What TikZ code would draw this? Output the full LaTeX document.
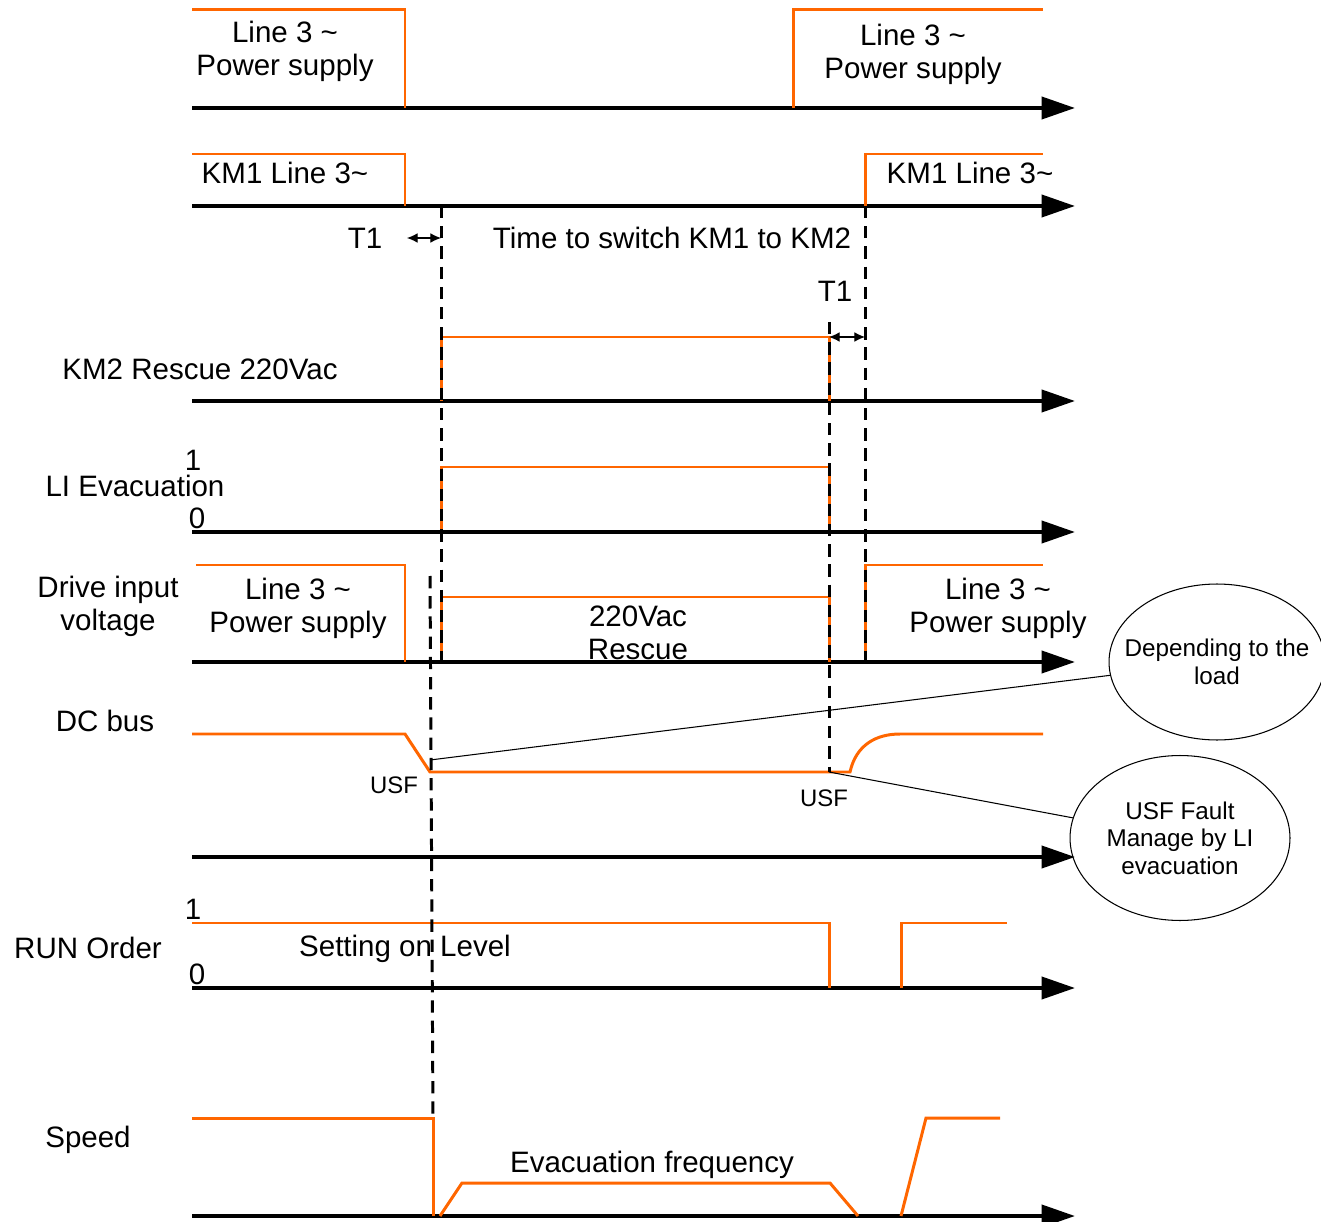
\documentclass[tikz,border=0pt]{standalone}
\usepackage{fontspec}
\setmainfont{Liberation Sans}
\usetikzlibrary{arrows.meta,shapes.geometric}
\newcommand{\tld}{\textasciitilde}

\begin{document}
\begin{tikzpicture}[x=0.02cm, y=-0.02cm,
    axis/.style={line width=2.3pt, -{Triangle[length=19pt,width=12.5pt]}},
    sig/.style={draw=sigorange, line width=1.7pt},
    guide/.style={line width=1.7pt, dash pattern=on 7pt off 4.5pt},
    span/.style={line width=0.6pt, {Latex[length=6pt,width=5.5pt]}-{Latex[length=6pt,width=5.5pt]}},
    lbl/.style={align=center, inner sep=0pt, font=\fontsize{16.8}{18.7}\selectfont},
    small/.style={align=center, inner sep=0pt, font=\fontsize{13.6}{15.5}\selectfont},
    note/.style={draw, ellipse, line width=0.6pt, inner sep=0pt},
    notetext/.style={align=center, inner sep=0pt, font=\fontsize{13.8}{15.7}\selectfont}]
  \definecolor{sigorange}{RGB}{255,102,0}
  \useasboundingbox (0,0) rectangle (1321,1222);

  % time axes
  \foreach \y in {108,206,401,532,662,857,988,1216}
    \draw[axis] (192,\y) -- (1075,\y);

  % signals
  \draw[sig] (192,10) -- (405,10) -- (405,108);
  \draw[sig] (793,108) -- (793,10) -- (1043,10);
  \draw[sig] (192,154) -- (405,154) -- (405,206);
  \draw[sig] (865,206) -- (865,154) -- (1043,154);
  \draw[sig] (441,401) -- (441,337) -- (829,337) -- (829,401);
  \draw[sig] (441,532) -- (441,467) -- (829,467) -- (829,532);
  \draw[sig] (196,565) -- (405,565) -- (405,662);
  \draw[sig] (441,662) -- (441,597) -- (829,597) -- (829,662);
  \draw[sig] (865,662) -- (865,565) -- (1043,565);
  \draw[sig] (192,734) -- (405,734) -- (430,772) -- (850,772)
    .. controls (856,745) and (876,734) .. (900,734) -- (1043,734);
  \draw[sig] (192,923) -- (829,923) -- (829,988);
  \draw[sig] (901,988) -- (901,923) -- (1007,923);
  \draw[sig] (192,1118) -- (433,1118) -- (433,1216);
  \draw[sig] (440,1216) -- (462,1183) -- (830,1183) -- (858,1216);
  \draw[sig] (901,1216) -- (926,1118) -- (1000,1118);

  % switching instants
  \coordinate (km1off) at (441,206);
  \coordinate (km1on) at (865,206);
  \coordinate (km2off) at (829,322);
  \coordinate (usfA) at (430,760);
  \coordinate (usfB) at (829,772);
  \draw[guide] (km1off) -- (441,662);
  \draw[guide] (km1on) -- (865,662);
  \draw[guide] (km2off) -- (829,772);
  \draw[guide] (430,576) -- (433,1118);
  \draw[span] (407,238) -- (441,238);
  \draw[span] (829,337) -- (865,337);

  % labels
  \node (top1) [lbl] at (285,51) {Line 3 \tld\\Power supply};
  \node (top2) [lbl] at (913,54) {Line 3 \tld\\Power supply};
  \node (kmA) [lbl] at (285,173) {KM1 Line 3\tld};
  \node (kmB) [lbl] at (970,173) {KM1 Line 3\tld};
  \node (t1a) [lbl] at (365,238) {T1};
  \node (switch) [lbl] at (672,238) {Time to switch KM1 to KM2};
  \node (t1b) [lbl] at (835,291) {T1};
  \node (km2) [lbl] at (200,369) {KM2 Rescue 220Vac};
  \node (li1) [lbl] at (193,460) {1};
  \node (li) [lbl] at (135,486) {LI Evacuation};
  \node (li0) [lbl] at (197,518) {0};
  \node (drive) [lbl] at (108,606) {Drive input\\voltage};
  \node (dA) [lbl] at (298,608) {Line 3 \tld\\Power supply};
  \node (rescue) [lbl] at (638,633) {220Vac\\Rescue};
  \node (dB) [lbl] at (998,608) {Line 3 \tld\\Power supply};
  \node (dc) [lbl] at (105,721) {DC bus};
  \node (usf1) [small] at (394,785) {USF};
  \node (usf2) [small] at (824,798) {USF};
  \node (run1) [lbl] at (193,909) {1};
  \node (run) [lbl] at (88,948) {RUN Order};
  \node (run0) [lbl] at (197,974) {0};
  \node (level) [lbl] at (405,949) {Setting on Level};
  \node (speed) [lbl] at (88,1140) {Speed};
  \node (evac) [lbl] at (652,1165) {Evacuation frequency};

  % remarks
  \node (load) [note, minimum width=4.32cm, minimum height=3.12cm] at (1217,662) {};
  \node (loadtxt) [notetext] at (load.center) {Depending to the\\load};
  \node (fault) [note, minimum width=4.4cm, minimum height=3.3cm] at (1180,838) {};
  \node (faulttxt) [notetext] at (fault.center) {USF Fault\\Manage by LI\\evacuation};
  \draw[line width=0.6pt] (usfA) -- (load);
  \draw[line width=0.6pt] (usfB) -- (fault);
\end{tikzpicture}
\end{document}
